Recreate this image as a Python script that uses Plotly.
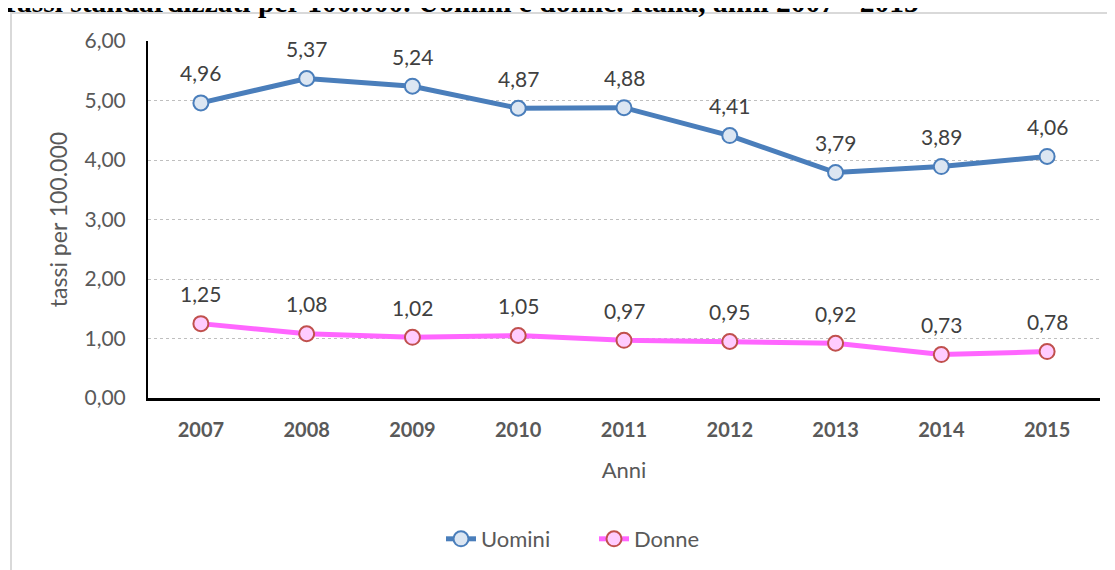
import plotly.graph_objects as go

anni = ["2007", "2008", "2009", "2010", "2011", "2012", "2013", "2014", "2015"]
uomini = [4.96, 5.37, 5.24, 4.87, 4.88, 4.41, 3.79, 3.89, 4.06]
donne = [1.25, 1.08, 1.02, 1.05, 0.97, 0.95, 0.92, 0.73, 0.78]
y_ticks = [0, 1, 2, 3, 4, 5, 6]
titolo = "Tassi standardizzati per 100.000. Uomini e donne. Italia, anni 2007 - 2015"

FONT = "Lato, 'Open Sans', sans-serif"
GREY = "#595959"

def fmt(v):
    return f"{v:.2f}".replace(".", ",")

# the page body adds an 8px offset; work in screen pixels and convert
OFF = 8
W, H = 1115 - OFF, 570 - OFF
L = 148 - OFF
T = 41 - OFF
R = W - (1100 - OFF)
B = H - (398 - OFF)
pw, ph = W - L - R, H - T - B

def px(x):
    return (x - OFF - L) / pw

def py(y):
    return (H - B - (y - OFF)) / ph

fig = go.Figure()
fig.add_trace(go.Scatter(
    x=anni, y=uomini, name="Uomini", mode="lines+markers",
    line=dict(color="#4A7EBB", width=5),
    marker=dict(size=15, color="#DCE6F2", line=dict(color="#4A7EBB", width=2)),
))
fig.add_trace(go.Scatter(
    x=anni, y=donne, name="Donne", mode="lines+markers",
    line=dict(color="#FF66FF", width=5),
    marker=dict(size=15, color="#FFCCFF", line=dict(color="#C0504D", width=2)),
))

for serie in (uomini, donne):
    for i, v in enumerate(serie):
        fig.add_annotation(x=i, y=v, xref="x", yref="y", text=fmt(v), showarrow=False,
                           yanchor="middle", yshift=30,
                           font=dict(family=FONT, size=21, color="#404040"))

fig.add_annotation(xref="paper", yref="paper", x=px(-2), y=py(2), xanchor="left",
                   yanchor="middle", showarrow=False, text="<b>" + titolo + "</b>",
                   font=dict(family="'Liberation Serif', 'Times New Roman', serif", size=29.5, color="black"))

fig.add_shape(type="line", xref="paper", yref="paper", x0=px(11), x1=px(11), y0=py(13), y1=py(580),
              line=dict(color="#D9D9D9", width=2))
fig.add_shape(type="line", xref="paper", yref="paper", x0=px(10), x1=px(1125), y0=py(13), y1=py(13),
              line=dict(color="#D9D9D9", width=2))

fig.update_layout(
    width=W, height=H,
    margin=dict(l=L, r=R, t=T, b=B, autoexpand=False),
    paper_bgcolor="white", plot_bgcolor="white",
    separators=",.",
    showlegend=True,
    legend=dict(orientation="h", x=px(594), xanchor="center", y=py(539), yanchor="middle",
                font=dict(family=FONT, size=22, color=GREY), entrywidth=108,
                bgcolor="rgba(0,0,0,0)"),
    font=dict(family=FONT, color=GREY),
)
fig.update_xaxes(
    type="category", range=[-0.5, 8.5],
    showline=True, linecolor="black", linewidth=3, showgrid=False,
    ticks="", tickfont=dict(family=FONT, size=20, color=GREY, weight="bold"),
    ticklabelstandoff=12,
    title=dict(text="Anni", font=dict(family=FONT, size=22, color=GREY), standoff=23),
)
fig.update_yaxes(
    range=[0, 6], tickvals=y_ticks, tickformat=".2f",
    showline=True, linecolor="black", linewidth=2,
    showgrid=True, gridcolor="#BFBFBF", griddash="dot", gridwidth=1,
    zeroline=False,
    tickfont=dict(family=FONT, size=21, color=GREY),
    ticklabelstandoff=16,
    title=dict(text="tassi per 100.000", font=dict(family=FONT, size=23, color=GREY), standoff=10),
)

fig.write_html("out.html")
